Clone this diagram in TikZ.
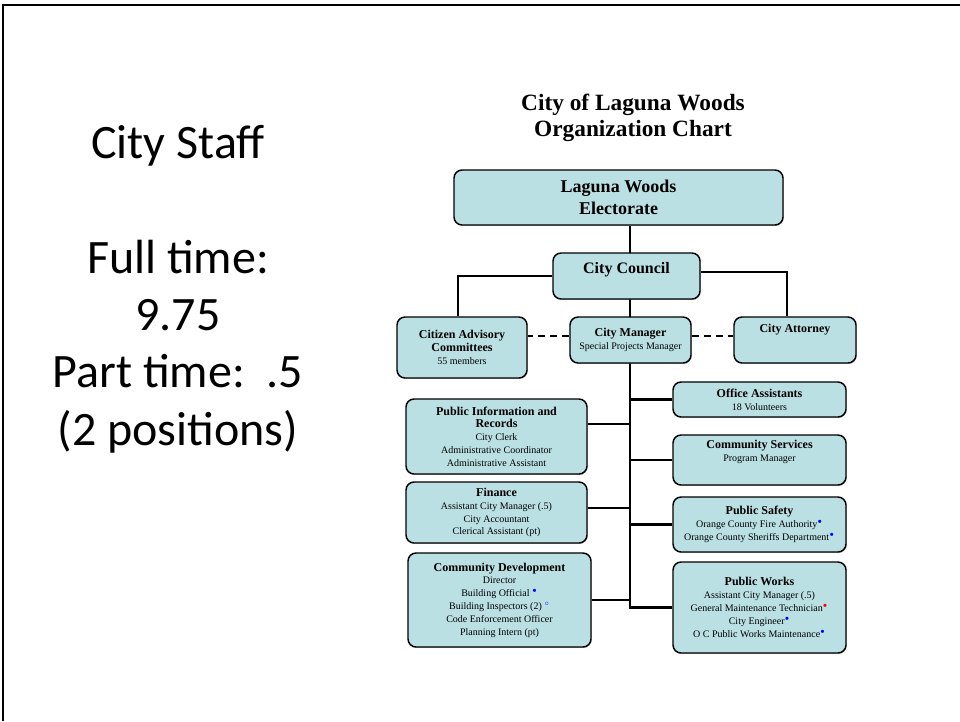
\documentclass[tikz,border=0pt]{standalone}
\usepackage{fontspec}
\setmainfont{Liberation Serif}
\newfontfamily\slidefont{Carlito}
\usetikzlibrary{backgrounds,shadows}
\definecolor{boxfill}{RGB}{186,224,227}
\newcommand{\boxhead}{\fontsize{9}{10.5}\selectfont\bfseries}
\newcommand{\boxsub}{\fontsize{7.5}{9.6}\selectfont\mdseries}
\newcommand{\bmark}{\textsuperscript{\textcolor{blue}{$\bullet$}}}
\newcommand{\omark}{\textsuperscript{\textcolor{blue}{$\circ$}}}
\newcommand{\rmark}{\textsuperscript{\textcolor{red}{$\bullet$}}}
\tikzset{
  orgbox/.style={draw, fill=boxfill, rounded corners=6pt, line width=1.1pt, align=center, inner sep=2pt,
    drop shadow={shadow xshift=0.5pt, shadow yshift=-0.7pt, fill=black!50}, font=\boxsub},
  link/.style={line width=2.2pt},
  dashlink/.style={line width=1.4pt, dash pattern=on 5.5pt off 3.5pt}
}
\begin{document}
\begin{tikzpicture}[x=0.75pt,y=-0.75pt]
        \useasboundingbox (0,0) rectangle (960,721);
        \draw[line width=1.5pt] (3,721)--(3,5)--(960,5);
        \node[align=center, font=\slidefont\fontsize{36}{43}\selectfont] (staff) at (178,289) {City Staff\\ \\Full time:\\9.75\\Part time:~~.5\\(2 positions)};
        \node[align=center, font=\fontsize{17.5}{19.5}\selectfont\bfseries] (title) at (633,118) {City of Laguna Woods\\Organization Chart};
        \coordinate (tr) at (630,607.5);
        \node[orgbox, minimum width=246.75pt, minimum height=41.25pt, font=\fontsize{13.5}{16.5}\selectfont\bfseries] (elect) at (618.5,197.5) {Laguna Woods\\Electorate};
        \node[orgbox, minimum width=110.25pt, minimum height=34.5pt, font=\fontsize{12}{14}\selectfont\bfseries, text height=13.2pt, text depth=17.3pt] (council) at (626.5,276) {City Council};
        \node[orgbox, minimum width=97.5pt, minimum height=45.75pt] (citizen) at (462,347.5) {\boxhead Citizen Advisory\\\boxhead Committees\\55 members};
        \node[orgbox, minimum width=90.75pt, minimum height=34.5pt] (manager) at (630.5,340) {\boxhead City Manager\\Special Projects Manager};
        \node[orgbox, minimum width=91.5pt, minimum height=34.5pt, text height=9.25pt, text depth=21.25pt] (attorney) at (795,340) {\boxhead City Attorney};
        \node[orgbox, minimum width=129.75pt, minimum height=26.25pt] (office) at (759.5,399.5) {\boxhead Office Assistants\\18 Volunteers};
        \node[orgbox, minimum width=129.75pt, minimum height=37.5pt, text height=17.9pt, text depth=15.6pt] (cserv) at (759.5,460) {\boxhead Community Services\\Program Manager};
        \node[orgbox, minimum width=129.75pt, minimum height=41.25pt] (psafety) at (759.5,524.5) {\boxhead Public Safety\\Orange County Fire Authority\bmark\\Orange County Sheriffs Department\bmark};
        \node[orgbox, minimum width=129.75pt, minimum height=68.25pt] (pworks) at (759.5,607.5) {\boxhead Public Works\\Assistant City Manager (.5)\\General Maintenance Technician\rmark\\City Engineer\bmark\\O C Public Works Maintenance\bmark};
        \node[orgbox, minimum width=135.75pt, minimum height=56.25pt] (pinfo) at (496.5,436.5) {\boxhead Public Information and\\\boxhead Records\\City Clerk\\Administrative Coordinator\\Administrative Assistant};
        \node[orgbox, minimum width=135.75pt, minimum height=45.75pt] (finance) at (496.5,512.5) {\boxhead Finance\\Assistant City Manager (.5)\\City Accountant\\Clerical Assistant (pt)};
        \node[orgbox, minimum width=137.25pt, minimum height=70.5pt] (cdev) at (499.5,600) {\boxhead Community Development\\Director\\Building Official \bmark\\Building Inspectors (2) \omark\\Code Enforcement Officer\\Planning Intern (pt)};
        \begin{scope}[on background layer]
        \draw[link] (elect.south -| tr) -- (tr) -- (pworks.west);
        \draw[link] (council.west) -| ([xshift=-3pt]citizen.north);
        \draw[link] ([yshift=3pt]council.east) -| ([xshift=-6pt]attorney.north);
        \draw[dashlink] ([yshift=3pt]manager.west) -- ([yshift=3pt]manager.west -| citizen.east);
        \draw[dashlink] ([yshift=3pt]manager.east) -- ([yshift=3pt]manager.east -| attorney.west);
        \draw[link] (office.west -| tr) -- (office.west);
        \draw[link] (cserv.west -| tr) -- (cserv.west);
        \draw[link] (psafety.west -| tr) -- (psafety.west);
        \draw[link] ([yshift=9.4pt]pinfo.east) -- ([yshift=9.4pt]pinfo.east -| tr);
        \draw[link] ([yshift=3.4pt]finance.east) -- ([yshift=3.4pt]finance.east -| tr);
        \draw[link] (cdev.east) -- (cdev.east -| tr);
        \end{scope}
\end{tikzpicture}
\end{document}
